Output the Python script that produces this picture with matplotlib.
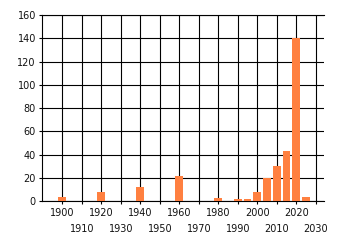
import matplotlib
matplotlib.use("Agg")
import matplotlib.pyplot as plt

years = [1900, 1920, 1940, 1960, 1980, 1990, 1995, 2000, 2005, 2010, 2015, 2020, 2025]
counts = [4, 8, 12, 22, 3, 2, 2, 8, 20, 30, 43, 140, 4]
even_ticks = [1900, 1920, 1940, 1960, 1980, 2000, 2020]
odd_ticks = [1910, 1930, 1950, 1970, 1990, 2010, 2030]
y_ticks = [0, 20, 40, 60, 80, 100, 120, 140, 160]

plt.rcParams['font.family'] = ['DejaVu Sans']
fig = plt.figure(figsize=(3.4, 2.45), dpi=100)
W, H = 340, 245
left, right, top, bottom = 42, 324, 15, 201.3
ax = fig.add_axes([left / W, (H - bottom) / H, (right - left) / W, (bottom - top) / H])

ax.bar(years, counts, width=4, color='#FF8040', zorder=3)

ax.set_xlim(1889.6, 2034.2)
ax.set_ylim(0, 160)
ax.set_yticks(y_ticks, labels=[str(v) for v in y_ticks])
ax.set_xticks(even_ticks, labels=[str(v) for v in even_ticks])
ax.set_xticks(odd_ticks, labels=[str(v) for v in odd_ticks], minor=True)

ax.grid(True, which='both', color='black', linewidth=0.8)
ax.set_axisbelow(True)
ax.spines['right'].set_visible(False)
for s in ['left', 'bottom', 'top']:
    ax.spines[s].set_linewidth(0.8)
    ax.spines[s].set_color('black')

ax.tick_params(axis='both', which='both', length=2.2, width=0.8, color='black',
               labelsize=7, labelcolor='#111111')
ax.tick_params(axis='x', which='major', pad=2.5)
ax.tick_params(axis='x', which='minor', pad=14)
ax.tick_params(axis='y', pad=2.2)

fig.savefig('out.png', dpi=100)
